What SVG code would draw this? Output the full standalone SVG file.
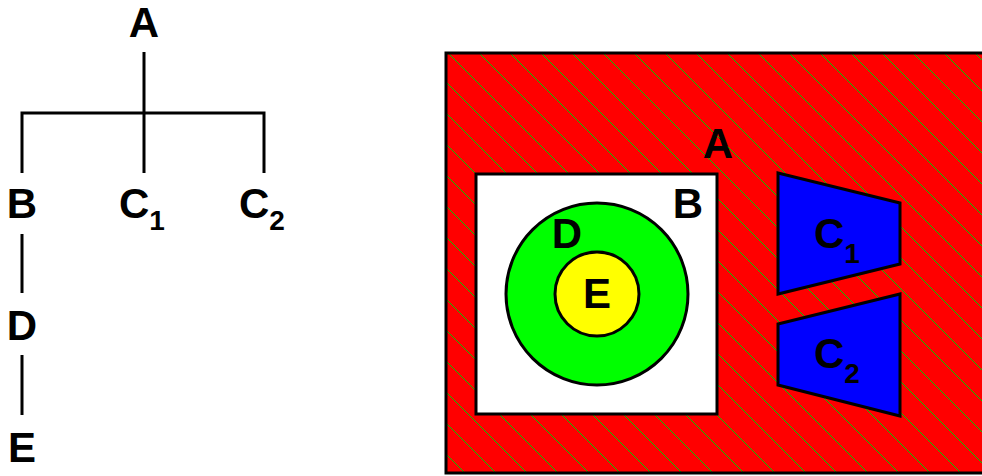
<svg xmlns="http://www.w3.org/2000/svg" width="982" height="476" viewBox="0 0 982 476">
<style>
text{font-family:"Liberation Sans",Arial,sans-serif;font-weight:bold;fill:#000}
.lbl{font-size:42px}
.sub{font-size:28px}
.ln{stroke:#000;stroke-width:3;fill:none}
.sh{stroke:#000;stroke-width:3}
.hatch{stroke:#00c800;stroke-width:1;fill:none;shape-rendering:crispEdges}
</style>
<defs>
<clipPath id="clipA"><rect x="446" y="53" width="540" height="420"/></clipPath>
</defs>
<g id="connectors">
<path class="ln" d="M144,52V113M22,173V113H264V173M144,113V173"/>
<path class="ln" d="M22,234V293M22,355V415"/>
</g>
<g id="tree-A"><text class="lbl" x="144" y="37" text-anchor="middle">A</text></g>
<g id="tree-B"><text class="lbl" x="22" y="218" text-anchor="middle">B</text></g>
<g id="tree-C1"><text class="lbl" x="119" y="218">C<tspan class="sub" dy="12">1</tspan></text></g>
<g id="tree-C2"><text class="lbl" x="239" y="218">C<tspan class="sub" dy="12">2</tspan></text></g>
<g id="tree-D"><text class="lbl" x="22" y="340" text-anchor="middle">D</text></g>
<g id="tree-E"><text class="lbl" x="22" y="462" text-anchor="middle">E</text></g>
<g id="region-A">
<rect x="446" y="53" width="540" height="420" fill="#ff0000"/>
<path class="hatch" clip-path="url(#clipA)" d="M-8,0l480,480M23,0l480,480M54,0l480,480M85,0l480,480M116,0l480,480M147,0l480,480M178,0l480,480M209,0l480,480M240,0l480,480M271,0l480,480M302,0l480,480M333,0l480,480M364,0l480,480M395,0l480,480M426,0l480,480M457,0l480,480M488,0l480,480M519,0l480,480M550,0l480,480M581,0l480,480M612,0l480,480M643,0l480,480M674,0l480,480M705,0l480,480M736,0l480,480M767,0l480,480M798,0l480,480M829,0l480,480M860,0l480,480M891,0l480,480M922,0l480,480"/>
<rect x="446" y="53" width="540" height="420" fill="none" class="sh"/>
<text class="lbl" x="718" y="158" text-anchor="middle">A</text>
</g>
<g id="region-B">
<rect x="476" y="174" width="241" height="240" fill="#ffffff" class="sh"/>
<text class="lbl" x="688" y="218" text-anchor="middle">B</text>
</g>
<g id="region-D">
<circle cx="597" cy="294" r="91" fill="#00ff00" class="sh"/>
<text class="lbl" x="567" y="248" text-anchor="middle">D</text>
</g>
<g id="region-E">
<circle cx="597" cy="294" r="42" fill="#ffff00" class="sh"/>
<text class="lbl" x="597" y="308" text-anchor="middle">E</text>
</g>
<g id="region-C1">
<polygon points="778,173 900,203 900,264 778,294" fill="#0000ff" class="sh"/>
<text class="lbl" x="814" y="248">C<tspan class="sub" dy="15">1</tspan></text>
</g>
<g id="region-C2">
<polygon points="778,324 900,294 900,416 778,385" fill="#0000ff" class="sh"/>
<text class="lbl" x="814" y="368">C<tspan class="sub" dy="15">2</tspan></text>
</g>
</svg>
